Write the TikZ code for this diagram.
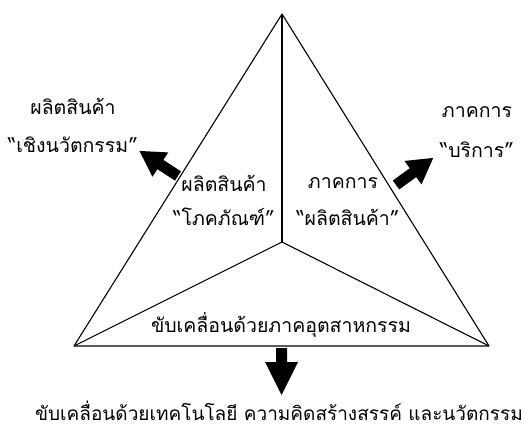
\documentclass[tikz,border=0pt]{standalone}
\usepackage{fontspec}
\newfontfamily\thaifont[Script=Thai]{Loma}
\begin{document}
\begin{tikzpicture}[x=1pt,y=-1pt,
  edge/.style={line width=1.1pt,line join=round},
  lbl/.style={font=\thaifont\fontsize{19.5}{22}\selectfont,inner sep=0pt,align=center},
  blockarrow/.pic={\fill[black] (0,-5.5) -- (21,-5.5) -- (21,-14.5) -- (46,0) -- (21,14.5) -- (21,5.5) -- (0,5.5) -- cycle;},
  downarrow/.pic={\fill[black] (0,-5.5) -- (14,-5.5) -- (14,-16.5) -- (47,0) -- (14,16.5) -- (14,5.5) -- (0,5.5) -- cycle;}
]
\useasboundingbox (0,0) rectangle (524,436);
\coordinate (A) at (282,14);
\coordinate (L) at (74,346);
\coordinate (R) at (489,346);
\coordinate (C) at (282,242);
\draw[edge] (A) -- (L) -- (R) -- cycle;
\draw[edge] (C) -- (A);
\draw[edge] (C) -- (L);
\draw[edge] (C) -- (R);
% arrows
\pic[rotate=147] at (178,176) {blockarrow};
\pic[rotate=36] at (396,185) {blockarrow};
\pic[rotate=-90] at (281.5,348) {downarrow};
% labels
\node[lbl] (t1) at (73,106) {ผลิตสินค้า};
\node[lbl] (t2) at (73,145) {“เชิงนวัตกรรม”};
\node[lbl] (t3) at (477,112) {ภาคการ};
\node[lbl] (t4) at (477,150) {“บริการ”};
\node[lbl] (t5) at (224,183) {ผลิตสินค้า};
\node[lbl] (t6) at (224,217) {“โภคภัณฑ์”};
\node[lbl] (t7) at (343,183) {ภาคการ};
\node[lbl] (t8) at (348,217) {“ผลิตสินค้า”};
\node[lbl] (t9) at (281,325) {ขับเคลื่อนด้วยภาคอุตสาหกรรม};
\node[lbl,font=\thaifont\fontsize{19}{22}\selectfont] (t10) at (279,411) {ขับเคลื่อนด้วยเทคโนโลยี ความคิดสร้างสรรค์ และนวัตกรรม};
\end{tikzpicture}
\end{document}
